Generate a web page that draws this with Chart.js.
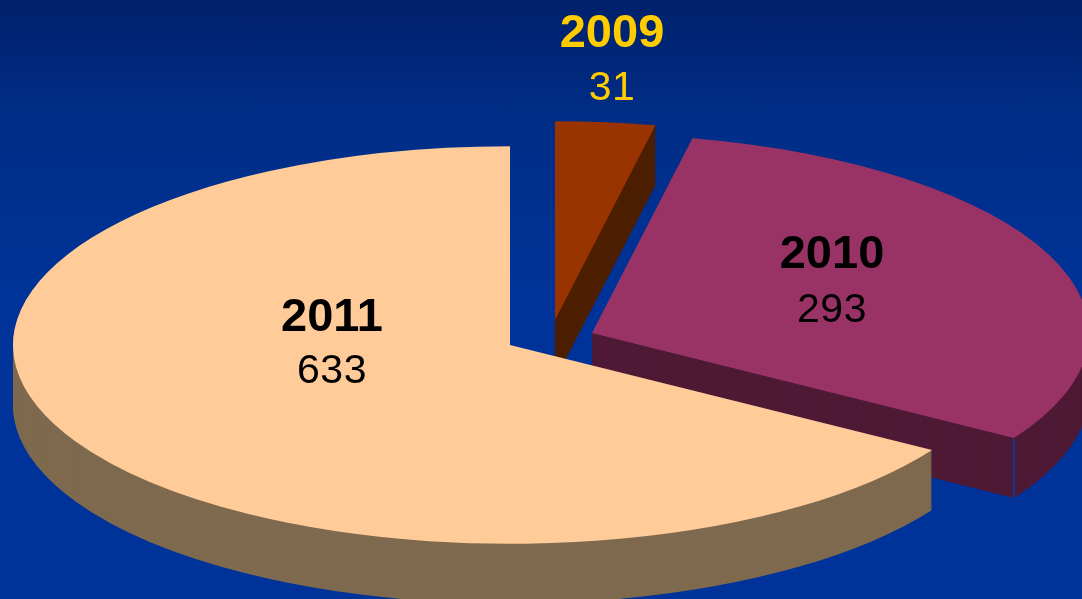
<!DOCTYPE html>
<html>
<head>
<meta charset="utf-8">
<title>2009 - 2011</title>
<script src="https://cdn.jsdelivr.net/npm/chart.js@4"></script>
<style>
  html, body { margin: 0; padding: 0; overflow: hidden; }
  body { width: 1082px; height: 599px; background: linear-gradient(#00206b 0, #002d85 110px, #003399 300px, #003399 100%); }
  canvas { display: block; }
</style>
</head>
<body>
<canvas id="pie" width="1082" height="599"></canvas>
<script>
// Three-year pie, tilted and extruded by a small plugin around Chart.js's own arcs.
const years = ["2009", "2010", "2011"];
const counts = [31, 293, 633];
const topColors = ["#993300", "#993366", "#ffcc99"];
const wallColors = ["#4d1f00", "#4f1a35", "#7f6a4f"];
const textColors = ["#ffcc00", "#000000", "#000000"];

// Look of the tilted pie (pixels on the page).
const RADIUS = 497;
const TILT = 0.4;
const DEPTH = 60;
const apexes = [[555, 320], [592, 333], [510, 345]];
const labelSpots = [[612, 47, 100], [832, 268, 322], [332, 331, 383]];

function drawArcAs(ctx, arc, apex, drop, color) {
  ctx.save();
  ctx.translate(apex[0], apex[1] + drop);
  ctx.scale(1, TILT);
  ctx.translate(-arc.x, -arc.y);
  const saved = arc.options;
  arc.options = Object.create(saved, { backgroundColor: { value: color } });
  arc.draw(ctx);
  arc.options = saved;
  ctx.restore();
}

const tiltedPie = {
  id: "tiltedPie",
  beforeDatasetDraw(chart, args) {
    const ctx = chart.ctx;
    const arcs = chart.getDatasetMeta(args.index).data;
    arcs.forEach((arc, i) => {
      for (let d = DEPTH; d > 0; d--) drawArcAs(ctx, arc, apexes[i], d, wallColors[i]);
      drawArcAs(ctx, arc, apexes[i], 0, topColors[i]);
    });
    // thin seam where the 2010 wall meets its rim
    const a = arcs[1];
    const x = apexes[1][0] + RADIUS * Math.cos(a.endAngle);
    const y = apexes[1][1] + RADIUS * TILT * Math.sin(a.endAngle);
    ctx.save();
    ctx.strokeStyle = "#0a3a94";
    ctx.lineWidth = 2;
    ctx.beginPath();
    ctx.moveTo(x, y + 1);
    ctx.lineTo(x, y + DEPTH);
    ctx.stroke();
    ctx.restore();
    return false;
  },
  afterDraw(chart) {
    const ctx = chart.ctx;
    ctx.save();
    ctx.textAlign = "center";
    ctx.textBaseline = "alphabetic";
    years.forEach((year, i) => {
      ctx.fillStyle = textColors[i];
      ctx.font = 'bold 47px "Liberation Sans", Arial, sans-serif';
      ctx.fillText(year, labelSpots[i][0], labelSpots[i][1]);
      ctx.letterSpacing = "0.5px";
      ctx.font = '41px "Liberation Sans", Arial, sans-serif';
      ctx.fillText(String(counts[i]), labelSpots[i][0], labelSpots[i][2]);
      ctx.letterSpacing = "0px";
    });
    ctx.restore();
  }
};

new Chart(document.getElementById("pie"), {
  type: "pie",
  data: {
    labels: years,
    datasets: [{ data: counts, backgroundColor: topColors, borderWidth: 0 }],
  },
  options: {
    responsive: false,
    animation: false,
    radius: RADIUS,
    rotation: 0,
    plugins: { legend: { display: false }, tooltip: { enabled: false } },
  },
  plugins: [tiltedPie],
});
</script>
</body>
</html>
